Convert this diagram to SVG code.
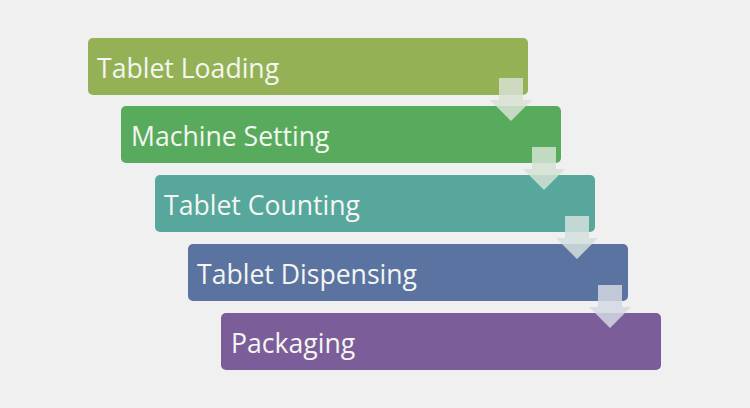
<svg xmlns="http://www.w3.org/2000/svg" width="750" height="408" viewBox="0 0 750 408">
<style>
.box{stroke:none}
.lbl{font-family:"Open Sans","Noto Sans",sans-serif;font-size:26.6px;fill:#f4f6f2}
.arr{opacity:0.85}
</style>
<rect width="750" height="408" fill="#f0f0f0"/>
<g id="n1"><rect class="box" x="88" y="38" width="440" height="57" rx="5" fill="#94b155"/><text class="lbl" x="97" y="78">Tablet Loading</text></g>
<g id="n2"><rect class="box" x="121" y="106" width="440" height="57" rx="5" fill="#58ab5c"/><text class="lbl" x="131" y="146">Machine Setting</text></g>
<g id="n3"><rect class="box" x="155" y="175" width="440" height="57" rx="5" fill="#58a79d"/><text class="lbl" x="164" y="215">Tablet Counting</text></g>
<g id="n4"><rect class="box" x="188" y="244" width="440" height="57" rx="5" fill="#5b73a0"/><text class="lbl" x="197" y="284">Tablet Dispensing</text></g>
<g id="n5"><rect class="box" x="221" y="313" width="440" height="57" rx="5" fill="#7b5d9a"/><text class="lbl" x="231" y="353">Packaging</text></g>
<g id="connectors">
<path class="arr" d="M499 78h24v22h9l-21 21l-21-21h9z" fill="#d8e2d3"/>
<path class="arr" transform="translate(33 69)" d="M499 78h24v22h9l-21 21l-21-21h9z" fill="#d3e2d3"/>
<path class="arr" transform="translate(66 138)" d="M499 78h24v22h9l-21 21l-21-21h9z" fill="#d3e0de"/>
<path class="arr" transform="translate(99 207)" d="M499 78h24v22h9l-21 21l-21-21h9z" fill="#d3d8e3"/>
</g>
</svg>
